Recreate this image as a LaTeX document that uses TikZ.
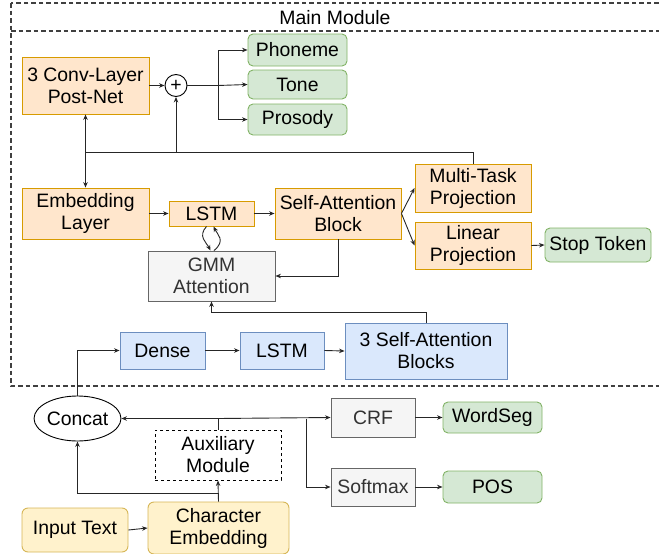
\documentclass[tikz,border=0pt]{standalone}
\usepackage{fontspec}
\setmainfont{Liberation Sans}
\usetikzlibrary{arrows.meta,shapes.geometric}
\definecolor{orF}{HTML}{FFE6CC}\definecolor{orD}{HTML}{D79B00}
\definecolor{grF}{HTML}{D5E8D4}\definecolor{grD}{HTML}{82B366}
\definecolor{blF}{HTML}{DAE8FC}\definecolor{blD}{HTML}{6C8EBF}
\definecolor{gyF}{HTML}{F5F5F5}\definecolor{gyD}{HTML}{666666}\definecolor{gyT}{HTML}{333333}
\definecolor{yeF}{HTML}{FFF2CC}\definecolor{yeD}{HTML}{D6B656}
\begin{document}
\begin{tikzpicture}[x=1pt,y=-1pt, font=\fontsize{19.4}{22}\selectfont,
 base/.style={draw, align=center, inner sep=0pt, line width=0.9pt},
 orbox/.style={base, fill=orF, draw=orD},
 grbox/.style={base, fill=grF, draw=grD, rounded corners=5pt},
 blbox/.style={base, fill=blF, draw=blD},
 gybox/.style={base, fill=gyF, draw=gyD, text=gyT},
 yebox/.style={base, fill=yeF, draw=yeD, rounded corners=6pt},
 conn/.style={line width=0.9pt, draw=black!85},
 arr/.style={conn, -{Stealth[length=5.5pt,width=4.5pt]}},
 frame/.style={line width=1.3pt, draw=black!75, dash pattern=on 4.5pt off 3pt},
 sz/.style 2 args={minimum width=#1pt, minimum height=#2pt}]
\useasboundingbox (0,0) rectangle (659,554);
% main module frame
\draw[frame] (11,3) rectangle (668,386);
\draw[frame] (11,31) -- (668,31);
\node (title) at (335,18) {Main Module};
% top row
\node[orbox, sz={127}{57}] (postnet) at (85.5,85.5) {3 Conv-Layer\\Post-Net};
\node[circle, draw, line width=0.9pt, minimum size=22pt, inner sep=0pt, fill=white] (plus) at (176,85.5) {+};
\node[grbox, sz={99}{32}] (phon) at (297.5,50) {Phoneme};
\node[grbox, sz={99}{29}] (tone) at (297.5,84.5) {Tone};
\node[grbox, sz={99}{31}] (pros) at (297.5,119.5) {Prosody};
% middle row
\node[orbox, sz={127}{51}] (emb) at (85.5,213.5) {Embedding\\Layer};
\node[orbox, sz={85}{25}] (lstm) at (211.5,213.5) {LSTM};
\node[orbox, sz={126}{51}] (sa) at (338,213.5) {Self-Attention\\Block};
\node[orbox, sz={116}{48}] (mt) at (473,188) {Multi-Task\\Projection};
\node[orbox, sz={116}{47}] (lp) at (473,245.5) {Linear\\Projection};
\node[grbox, sz={106}{34}] (stop) at (598,245) {Stop Token};
\node[gybox, sz={127}{50}] (gmm) at (211.5,276) {GMM\\Attention};
% encoder row
\node[blbox, sz={85}{37}] (dense) at (162.5,350.5) {Dense};
\node[blbox, sz={84}{37}] (lstmb) at (282,350.5) {LSTM};
\node[blbox, sz={162}{56}] (sab) at (426,351) {3 Self-Attention\\Blocks};
% bottom part
\node[ellipse, draw, line width=0.9pt, sz={85}{45}, inner sep=0pt] (concat) at (77.5,418.5) {Concat};
\node[base, dashed, sz={126}{50}] (aux) at (218,455) {Auxiliary\\Module};
\node[gybox, sz={84}{39}] (crf) at (373,417.5) {CRF};
\node[grbox, sz={99}{31}] (wseg) at (492.5,417.5) {WordSeg};
\node[gybox, sz={84}{38}] (soft) at (373,487) {Softmax};
\node[grbox, sz={99}{32}] (pos) at (492.5,487) {POS};
\node[yebox, sz={106}{44}] (input) at (75,530) {Input Text};
\node[yebox, sz={141}{52}] (cemb) at (218.5,528) {Character\\Embedding};
% connectors: top
\draw[arr] (postnet.east) -- (plus.west);
\coordinate (br) at (218,85.5);
\draw[conn] (plus.east) -- (br);
\draw[arr] (br) |- (phon.west);
\draw[arr] (br) -- (tone.west);
\draw[arr] (br) |- (pros.west);
\coordinate (busL) at (85.5,152);
\coordinate (busP) at (176,152);
\draw[conn] (mt.north) |- (busL);
\draw[arr] (busL) -- (postnet.south);
\draw[arr] (busL) -- (emb.north);
\draw[arr] (busP) -- (plus.south);
% middle
\draw[arr] (emb.east) -- (lstm.west);
\draw[arr] (lstm.east) -- (sa.west);
\draw[arr] (sa.east) -- (mt.west);
\draw[arr] (sa.east) -- (lp.west);
\draw[arr] (lp.east) -- (stop.west);
\draw[arr] (sa.south) |- (gmm.east);
\draw[arr] ([xshift=-5pt]lstm.south) .. controls +(-9,10) and +(-4,-8) .. ([xshift=-1pt]gmm.north);
\draw[arr] ([xshift=2.5pt]gmm.north) .. controls +(12,-10) and +(4,8) .. ([xshift=2pt]lstm.south);
\draw[arr] (sab.north) -- ++(0,-10) -| (gmm.south);
% encoder
\draw[arr] (concat.north) |- (dense.west);
\draw[arr] (dense.east) -- (lstmb.west);
\draw[arr] (lstmb.east) -- (sab.west);
% bottom
\coordinate (auxup) at (218,418.5);
\coordinate (sbr) at (306,418.5);
\draw[conn] (aux.north) -- (auxup);
\draw[arr] (auxup) -- (concat.east);
\draw[arr] (auxup) -- (crf.west);
\draw[arr] (sbr) |- (soft.west);
\draw[arr] (crf.east) -- (wseg.west);
\draw[arr] (soft.east) -- (pos.west);
\draw[arr] (input.east) -- (cemb.west);
\draw[arr] (cemb.north) -- (aux.south);
\coordinate (cbr) at (218,493);
\draw[arr] (cbr) -| (concat.south);
\end{tikzpicture}
\end{document}
